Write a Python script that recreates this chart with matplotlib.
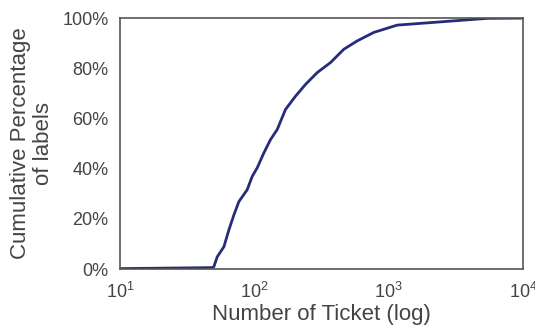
import numpy as np
import matplotlib
matplotlib.use('Agg')
import matplotlib.pyplot as plt
import seaborn as sns
from matplotlib.ticker import FuncFormatter

sns.set_style('white')
plt.rcParams['font.family'] = ['Liberation Sans', 'DejaVu Sans']

# number of tickets (log x) vs cumulative percentage of labels
tickets = [10, 48.6, 50, 53, 59.4, 64.7, 70.5, 76.8, 88.5, 96.4, 105, 117.8, 132,
           148, 170.6, 202.6, 240.5, 293.7, 369, 463.6, 582, 774, 1155, 2168,
           3837, 5400, 10000]
cum_pct = [0.2, 0.6, 0.9, 4.9, 8.9, 15.6, 21.6, 26.9, 31.6, 36.9, 40.3, 46.3, 51.6,
           55.6, 63.6, 68.9, 73.6, 78.3, 82.3, 87.6, 90.9, 94.3, 97.2, 98.3,
           99.3, 99.9, 100]

fig = plt.figure(figsize=(5.35, 3.29), dpi=100)
ax = fig.add_axes([0.224, 0.182, 0.754, 0.763])
ax.plot(tickets, cum_pct, color='#272c7a', lw=2)
ax.set_xscale('log')
ax.set_xlim(10, 10000)
ax.set_ylim(0, 100)
ax.set_yticks([0, 20, 40, 60, 80, 100])
ax.yaxis.set_major_formatter(FuncFormatter(lambda v, p: '%d%%' % v))
ax.minorticks_off()
ax.tick_params(labelsize=13, colors='#444444', length=0)
ax.tick_params(axis='x', pad=9)
ax.tick_params(axis='y', pad=8)
for s in ax.spines.values():
    s.set_color('#555555')
    s.set_linewidth(1.2)
ax.set_xlabel('Number of Ticket (log)', fontsize=16, color='#444444', labelpad=2)
ax.set_ylabel('Cumulative Percentage\nof labels', fontsize=16, color='#444444',
              labelpad=6, linespacing=1.15)
fig.savefig('out.png', dpi=100)
